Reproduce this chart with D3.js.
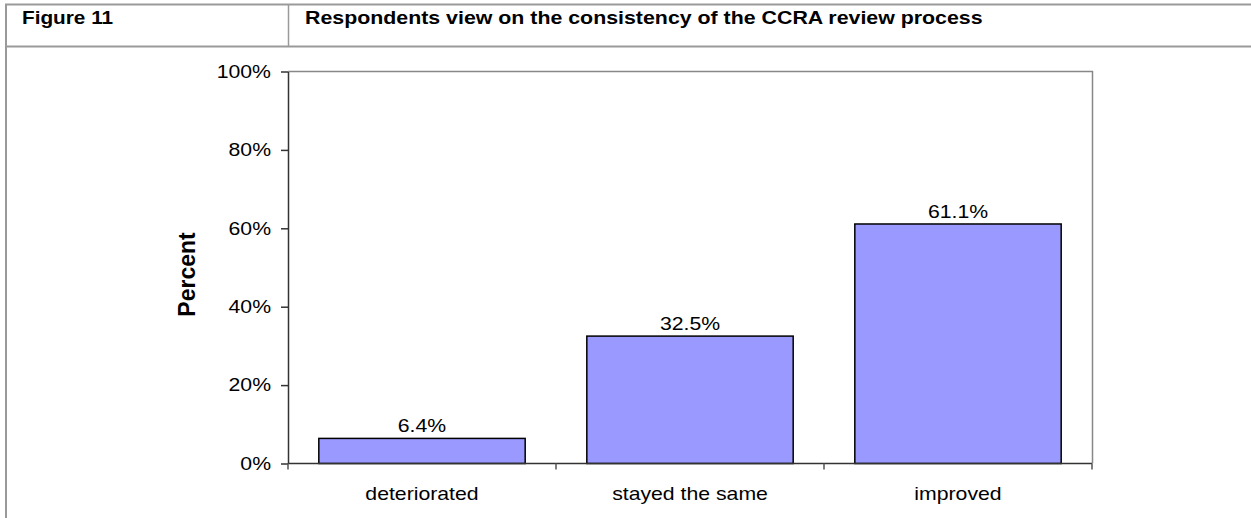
<!DOCTYPE html>
<html>
<head>
<meta charset="utf-8">
<script src="https://cdn.jsdelivr.net/npm/d3@7"></script>
<style>
  html, body { margin: 0; padding: 0; background: #fff; }
  svg { display: block; font-family: "Liberation Sans", Arial, sans-serif; }
</style>
</head>
<body>
<svg id="chart" width="1251" height="518"></svg>
<script>
// Survey results: consistency of the CCRA review process
const categories = ["deteriorated", "stayed the same", "improved"];
const percentValues = [6.4, 32.5, 61.1];
const yTicks = [0, 20, 40, 60, 80, 100];
const figureLabel = "Figure 11";
const figureTitle = "Respondents view on the consistency of the CCRA review process";
const yAxisTitle = "Percent";

const svg = d3.select("#chart");
const W = 1251, H = 518;
const plot = { left: 288, right: 1092, top: 71.5, bottom: 463.5 };
const tableGrey = "#9a9a9a";
const FONT = "Liberation Sans, Arial, sans-serif";
const SX = 1.18;          // horizontal glyph stretch of the printed figure
const LABEL_SIZE = 18;

// Places a horizontally stretched text label at (x, y)
function label(parent, x, y, str, opts = {}) {
  const g = parent.append("g").attr("transform", `translate(${x},${y}) scale(${SX},1)`);
  return g.append("text")
    .attr("text-anchor", opts.anchor || "start")
    .attr("font-size", opts.size || LABEL_SIZE)
    .attr("font-weight", opts.weight || "normal")
    .attr("font-family", FONT)
    .attr("fill", "#000")
    .text(str);
}

// Caption table frame
const frame = svg.append("g");
frame.append("line").attr("x1", 5).attr("x2", W).attr("y1", 4.5).attr("y2", 4.5)
  .attr("stroke", tableGrey).attr("stroke-width", 2);
frame.append("line").attr("x1", 5).attr("x2", W).attr("y1", 46.5).attr("y2", 46.5)
  .attr("stroke", tableGrey).attr("stroke-width", 2);
frame.append("line").attr("x1", 6).attr("x2", 6).attr("y1", 4).attr("y2", H)
  .attr("stroke", tableGrey).attr("stroke-width", 2);
frame.append("line").attr("x1", 288.5).attr("x2", 288.5).attr("y1", 4).attr("y2", 47)
  .attr("stroke", tableGrey).attr("stroke-width", 1.5);

label(svg, 22, 24, figureLabel, { size: 17.6, weight: "bold" });
label(svg, 305, 24, figureTitle, { size: 18.1, weight: "bold" });

// Scales
const x = d3.scaleBand().domain(categories)
  .range([plot.left, plot.right]).paddingInner(0.23).paddingOuter(0.115);
const xCat = d3.scaleBand().domain(categories).range([plot.left, plot.right]);
const y = d3.scaleLinear().domain([0, 100]).range([plot.bottom, plot.top]);

// Plot area border (top and right in grey)
svg.append("path")
  .attr("d", `M${plot.left},${plot.top}H${plot.right + 0.5}V${plot.bottom}`)
  .attr("fill", "none").attr("stroke", "#888").attr("stroke-width", 1.5);

// Bars
svg.append("g").selectAll("rect").data(categories).join("rect")
  .attr("x", d => x(d))
  .attr("width", x.bandwidth())
  .attr("y", (d, i) => y(percentValues[i]))
  .attr("height", (d, i) => plot.bottom - y(percentValues[i]))
  .attr("fill", "#9999ff")
  .attr("stroke", "#000").attr("stroke-width", 1.5);

// Value labels
const valueG = svg.append("g");
categories.forEach((c, i) => {
  label(valueG, x(c) + x.bandwidth() / 2, y(percentValues[i]) - 6,
    percentValues[i].toFixed(1) + "%", { anchor: "middle" });
});

// Y axis
const yAxis = svg.append("g").attr("transform", `translate(${plot.left},0)`)
  .call(d3.axisLeft(y).tickValues(yTicks).tickSize(7).tickSizeOuter(0)
    .tickFormat(d => d + "%"));
yAxis.select(".domain").attr("stroke", "#333").attr("stroke-width", 1.5);
yAxis.selectAll(".tick line").attr("stroke", "#333").attr("stroke-width", 1.5);
yAxis.selectAll(".tick text")
  .attr("font-size", LABEL_SIZE).attr("fill", "#000").attr("font-family", FONT)
  .attr("transform", `scale(${SX},1)`)
  .attr("x", -17 / SX);

// X axis with ticks at category boundaries
const xAxisG = svg.append("g").attr("transform", `translate(0,${plot.bottom})`);
xAxisG.append("line").attr("x1", plot.left).attr("x2", plot.right)
  .attr("stroke", "#333").attr("stroke-width", 1.5);
const boundaries = categories.map(c => xCat(c)).concat([plot.right]);
xAxisG.selectAll("line.tk").data(boundaries).join("line").attr("class", "tk")
  .attr("x1", d => d).attr("x2", d => d).attr("y1", 0).attr("y2", 6)
  .attr("stroke", "#555").attr("stroke-width", 1.5);
categories.forEach(c => {
  label(xAxisG, xCat(c) + xCat.bandwidth() / 2, 36.5, c, { anchor: "middle" });
});

// Y axis title
svg.append("text")
  .attr("transform", `translate(195,274.5) rotate(-90)`)
  .attr("text-anchor", "middle").attr("font-size", 23).attr("font-weight", "bold")
  .attr("font-family", FONT).attr("fill", "#000").text(yAxisTitle);
</script>
</body>
</html>
